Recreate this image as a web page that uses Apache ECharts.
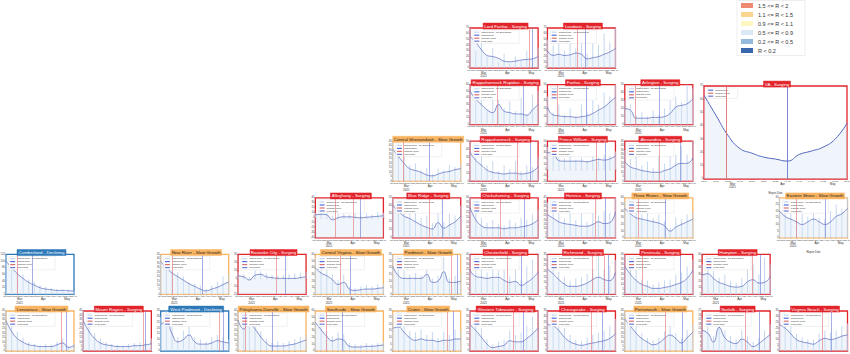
<!DOCTYPE html>
<html>
<head>
<meta charset="utf-8">
<script src="https://cdn.jsdelivr.net/npm/echarts@6/dist/echarts.min.js"></script>
<style>
html, body { margin: 0; background: #fff; }
#chart { width: 850px; height: 354px; }
</style>
</head>
<body>
<div id="chart"></div>
<script>
// health districts, laid out like the state map
const districts = [
  'Lord Fairfax', 'Loudoun', 'Rappahannock Rapidan', 'Fairfax', 'Arlington',
  'Rappahannock', 'Prince William', 'Alexandria', 'Central Shenandoah', 'Alleghany',
  'Blue Ridge', 'Chickahominy', 'Henrico', 'Three Rivers', 'Eastern Shore',
  'Cumberland', 'New River', 'Roanoke City', 'Central Virginia', 'Piedmont',
  'Chesterfield', 'Richmond', 'Peninsula', 'Hampton', 'Lenowisco',
  'Mount Rogers', 'West Piedmont', 'Pittsylvania-Danville', 'Southside', 'Crater',
  'Western Tidewater', 'Chesapeake', 'Portsmouth', 'Norfolk', 'Virginia Beach'
];
const statuses = [
  'Surging', 'Surging', 'Surging', 'Surging', 'Surging',
  'Surging', 'Surging', 'Surging', 'Slow Growth', 'Surging',
  'Surging', 'Surging', 'Surging', 'Slow Growth', 'Slow Growth',
  'Declining', 'Slow Growth', 'Surging', 'Slow Growth', 'Slow Growth',
  'Surging', 'Surging', 'Surging', 'Surging', 'Slow Growth',
  'Surging', 'Declining', 'Slow Growth', 'Slow Growth', 'Slow Growth',
  'Surging', 'Surging', 'Slow Growth', 'Surging', 'Surging'
];
const gridCol = [6, 7, 6, 7, 8, 6, 7, 8, 5, 4, 5, 6, 7, 8, 10, 0, 2, 3, 4, 5, 6, 7, 8, 9, 0, 1, 2, 3, 4, 5, 6, 7, 8, 9, 10];
const gridRow = [0, 0, 1, 1, 1, 2, 2, 2, 2, 3, 3, 3, 3, 3, 3, 4, 4, 4, 4, 4, 4, 4, 4, 4, 5, 5, 5, 5, 5, 5, 5, 5, 5, 5, 5];

// weekly smoothed cases / 100k
const smoothed = [
  [55, 45, 32, 22, 20, 17, 12, 11, 12, 14, 15, 16, 20],
  [30, 22, 24, 22, 23, 26, 24, 16, 18, 20, 24, 28, 34],
  [50, 38, 30, 22, 18, 30, 20, 18, 16, 16, 14, 22, 30],
  [22, 12, 11, 10, 10, 9, 10, 11, 14, 18, 22, 28, 34],
  [20, 18, 8, 8, 8, 9, 9, 10, 14, 22, 24, 26, 32],
  [36, 26, 20, 14, 11, 10, 9, 10, 10, 9, 10, 12, 18],
  [30, 29, 16, 15, 15, 15, 15, 14, 16, 18, 17, 19, 24],
  [22, 16, 14, 12, 11, 10, 10, 12, 14, 18, 20, 20, 26],
  [36, 28, 20, 14, 12, 10, 7, 6, 8, 10, 11, 13, 14],
  [6, 7, 6, -4, 0, 2, 2, 1, 0, 1, 2, 3, 4],
  [41, 33, 27, 24, 20, 16, 13, 11, 19, 12, 16, 20, 27],
  [30, 18, 12, 10, 10, 10, 9, 10, 10, 11, 12, 14, 18],
  [26, 22, 18, 16, 15, 14, 13, 13, 15, 18, 16, 17, 29],
  [44, 36, 30, 28, 26, 24, 22, 18, 10, 16, 20, 24, 28],
  [20, 16, 14, 12, 10, 12, 14, 12, 10, 12, 16, 18, 22],
  [100, 80, 62, 48, 36, 28, 20, 16, 14, 12, 12, 11, 10],
  [37, 30, 24, 20, 16, 12, 9, 6, 4, 6, 8, 11, 14],
  [3, 2, -2, 4, 5, 2, 1, 0, 0, 0, 0, 1, 2],
  [40, 32, 28, 22, 15, 18, 8, 6, 7, 8, 8, 9, 10],
  [21, 14, 12, 12, 12, 12, 15, 9, 10, 17, 9, 9, 10],
  [24, 18, 17, 16, 17, 17, 14, 12, 13, 9, 12, 16, 22],
  [22, 18, 13, 9, 7, 7, 8, 10, 13, 15, 13, 12, 19],
  [28, 20, 14, 10, 8, 6, 6, 7, 8, 10, 12, 16, 24],
  [29, 31, 24, 18, 15, 12, 11, 12, 19, 22, 17, 18, 26],
  [34, 22, 14, 10, 7, 6, 5, 5, 5, 7, 9, 4, 6],
  [34, 22, 14, 9, 7, 6, 5, 5, 5, 6, 6, 7, 8],
  [23, 26, 15, 8, 10, 14, 8, 6, 6, 7, 9, 8, 7],
  [31, 22, 28, 22, 14, 8, 5, 5, 5, 6, 7, 9, 11],
  [43, 32, 22, 15, 18, 16, 7, 6, 6, 7, 7, 8, 9],
  [17, 18, 14, 10, 8, 9, 8, 8, 7, 8, 8, 9, 9],
  [23, 18, 12, 6, 3, 4, 5, 9, 8, 8, 11, 15, 20],
  [23, 22, 18, 12, 8, 6, 5, 6, 7, 8, 9, 11, 15],
  [36, 28, 20, 14, 10, 7, 9, 14, 18, 14, 9, 15, 21],
  [14, 12, 6, 16, 9, 6, 5, 8, 6, 3, 5, 8, 11],
  [23, 20, 15, 10, 8, 7, 6, 9, 11, 10, 11, 13, 14]
];

// unsmoothed reports (spikes)
const raw = [
  [70, 30, 55, 20, 35, 10, 25, 8, 20, 12, 30, 15, 35],
  [50, 40, 55, 30, 60, 35, 55, 25, 50, 40, 60, 45, 70],
  [60, 35, 55, 20, 40, 60, 25, 35, 20, 40, 15, 45, 50],
  [35, 15, 25, 12, 20, 10, 25, 15, 30, 25, 40, 35, 50],
  [30, 25, 12, 15, 10, 18, 12, 20, 30, 35, 28, 50, 45],
  [50, 30, 35, 20, 25, 12, 20, 15, 25, 12, 20, 18, 30],
  [40, 26, 22, 20, 24, 18, 22, 16, 24, 22, 26, 24, 32],
  [35, 25, 30, 18, 22, 15, 28, 20, 35, 30, 40, 30, 45],
  [45, 30, 35, 18, 20, 12, 15, 8, 14, 12, 18, 16, 20],
  [10, 12, 14, 4, 8, 9, 6, 10, 5, 9, 6, 12, 10],
  [50, 40, 45, 30, 35, 25, 28, 18, 35, 20, 30, 28, 40],
  [40, 25, 20, 15, 18, 14, 12, 18, 15, 20, 18, 24, 28],
  [40, 30, 35, 22, 28, 20, 30, 18, 35, 25, 30, 28, 45],
  [55, 40, 45, 35, 38, 30, 35, 25, 15, 30, 28, 35, 38],
  [30, 20, 25, 15, 18, 16, 25, 15, 14, 20, 25, 22, 30],
  [120, 95, 80, 60, 45, 38, 28, 22, 20, 16, 15, 14, 12],
  [45, 35, 30, 25, 20, 14, 12, 10, 6, 10, 14, 20, 22],
  [8, 5, 2, 10, 9, 6, 4, 3, 4, 5, 6, 7, 8],
  [55, 40, 38, 30, 22, 30, 12, 10, 12, 14, 12, 15, 16],
  [30, 20, 18, 15, 16, 14, 25, 12, 14, 28, 12, 14, 15],
  [40, 25, 30, 22, 28, 24, 30, 18, 25, 15, 28, 35, 40],
  [35, 25, 20, 15, 12, 14, 15, 18, 25, 35, 22, 25, 30],
  [40, 28, 25, 15, 14, 10, 12, 14, 15, 20, 22, 28, 35],
  [45, 40, 35, 25, 30, 20, 18, 25, 40, 45, 30, 55, 45],
  [45, 30, 22, 15, 10, 8, 6, 8, 7, 10, 14, 6, 8],
  [45, 32, 20, 14, 10, 8, 7, 6, 8, 9, 10, 12, 14],
  [30, 35, 22, 12, 18, 25, 12, 10, 8, 12, 14, 12, 10],
  [40, 30, 38, 30, 20, 12, 8, 10, 8, 10, 12, 14, 16],
  [55, 40, 30, 22, 28, 25, 12, 10, 9, 12, 10, 12, 14],
  [28, 30, 22, 15, 14, 16, 12, 14, 10, 14, 12, 16, 15],
  [35, 28, 20, 10, 6, 8, 10, 18, 14, 16, 22, 30, 35],
  [35, 32, 28, 20, 14, 10, 9, 12, 14, 16, 18, 22, 28],
  [45, 35, 30, 20, 15, 12, 15, 22, 28, 20, 14, 24, 30],
  [22, 18, 10, 26, 14, 10, 8, 14, 10, 6, 9, 14, 18],
  [35, 30, 22, 15, 12, 10, 10, 15, 18, 16, 18, 22, 24]
];

// week position of change points and peak dates
const changePts = [[10.4], [5.3], [4.8], [1.8], [1.8], [8.4], [8.6], [6], [1.9], [3.5, 6.7],
  [6.5], [5.4], [8.4], [2.4], [3], [2], [2], [6.7], [4.4], [10.4],
  [6.5], [7.9, 10], [3], [8.9], [9.8], [10.6], [10.4], [1.2], [2], [9.6],
  [7.7], [7.7], [7.2], [7.6], [7.6]];
const peakPts = [[11], [6.7], [9.4], [6.8], [6], [10.6], [10.2], [9.8], [6.4], [8],
  [8.8], [9.6], [10.2], [7.2], [8], [4.6], [7.4], [8.3], [6.1], [11.4],
  [9.1], [10.8], [9.8], [10.3], [10.7], [11], [11], [6], [4.8], [10.6],
  [9.4], [9.7], [10.2], [10], [9.1]];
const yMins = [0, 0, 0, 0, 0, 0, -20, 0, 0, -40, 0, 0, 0, 0, 0, 0, 0, -20, 0, 0, 0, 0, 0, 0, 0, 0, 0, 0, 0, 0, 0, 0, 0, 0, 0];
const yMaxs = [null, null, null, null, null, null, 50, null, null, 40, null, null, null, null, null, null, null, 30, null, null, null, null, null, null, null, null, null, null, null, null, null, null, null, null, null];

// statewide
const vaSmoothed = [63, 48, 33, 23, 19.5, 16.5, 15, 13.5, 18.5, 21, 24, 30, 42];
const vaChange = [1.9];
const vaPeak = [7];

const weekTicks = ['02-11', '02-18', '02-26', '03-05', '03-12', '03-20', '03-27', '04-03', '04-11', '04-18', '04-25', '05-03', '05-10'];
const majorTicks = [2.4, 6.6, 10.8];
const majorLabels = ['Mar\n2021', 'Apr', 'May'];

const rBands = ['1.5 <= R < 2', '1.1 <= R < 1.5', '0.9 <= R < 1.1', '0.5 <= R < 0.9', '0.2 <= R < 0.5', 'R < 0.2'];
const rColors = ['#ee8a73', '#fbd58f', '#fdf8c2', '#dbe8f6', '#95badf', '#3a66ad'];

const STATUS_BG = { 'Surging': '#e2232a', 'Slow Growth': '#f9b462', 'Declining': '#2c78b9' };
const STATUS_FG = { 'Surging': '#fff', 'Slow Growth': '#222', 'Declining': '#fff' };
const FONT = 'Liberation Sans';

const grids = [], xAxes = [], yAxes = [], series = [], titles = [], legends = [];

function addPanel(box, title, status, line, spikes, changes, peaks, yMin, yMax, big, lastRow) {
  const g = grids.length;
  const color = STATUS_BG[status];
  grids.push({ left: box.left, top: box.top, width: box.width, height: box.height,
    outerBoundsMode: 'none', containLabel: false,
    show: true, borderColor: color, borderWidth: 1.3, backgroundColor: '#fff' });
  xAxes.push({
    gridIndex: g, type: 'value', min: 0, max: 12,
    axisLine: { show: false },
    axisTick: { length: 1, lineStyle: { color: '#666', width: 0.4 },
      customValues: weekTicks.map((t, i) => i) },
    axisLabel: {
      // the bottom row runs off the page in the original, so its labels are not drawn
      show: !lastRow,
      customValues: weekTicks.map((t, i) => i).concat(majorTicks),
      margin: 1, color: '#444', fontSize: 2.3, fontFamily: FONT,
      formatter: v => {
        const m = majorTicks.indexOf(v);
        return m >= 0 ? '{m|' + majorLabels[m].replace('\n', '}\n{m|') + '}' : weekTicks[v];
      },
      rich: { m: { fontSize: 3, lineHeight: 3.4, color: '#333', fontFamily: FONT, padding: [4, 0, 0, 0] } }
    },
    splitLine: { show: false },
    name: lastRow ? '' : 'Report Date', nameLocation: 'middle', nameGap: 13,
    nameTextStyle: { fontSize: 2.6, color: '#333', fontFamily: FONT }
  });
  yAxes.push({
    gridIndex: g, type: 'value', min: yMin, max: yMax, splitNumber: big ? 6 : 7,
    axisLine: { show: false },
    axisTick: { length: 1, lineStyle: { color: '#666', width: 0.4 } },
    axisLabel: { fontSize: 2.7, margin: 1, color: '#444', fontFamily: FONT },
    splitLine: { show: false }
  });
  const names = [];
  if (spikes) {
    names.push('Cases/100k - No Smoothing');
    series.push({ name: 'Cases/100k - No Smoothing', type: 'bar', xAxisIndex: g, yAxisIndex: g,
      barWidth: 0.8, itemStyle: { color: '#b5cdea', opacity: 0.8 },
      data: spikes.map((v, i) => [i, v]) });
  }
  names.push('Cases/100k', 'Change Point', 'Peak Date');
  series.push({ name: 'Cases/100k', type: 'line', xAxisIndex: g, yAxisIndex: g, smooth: 0.5,
    symbol: 'none', lineStyle: { color: '#5466bd', width: big ? 1 : 0.7 },
    areaStyle: { color: 'rgba(214,228,244,0.55)', origin: 'start' },
    data: line.map((v, i) => [i, v]) });
  const vline = (name, pts, c) => series.push({ name, type: 'line', xAxisIndex: g, yAxisIndex: g,
    data: [], itemStyle: { color: c }, lineStyle: { color: c },
    markLine: { symbol: 'none', silent: true, label: { show: false },
      lineStyle: { color: c, width: big ? 0.9 : 0.6, type: 'solid' },
      data: pts.map(p => ({ xAxis: p })) } });
  vline('Change Point', changes, '#e07070');
  vline('Peak Date', peaks, '#6a78d4');

  titles.push({ text: title, left: box.left + box.width / 2, top: box.top - 5, textAlign: 'center',
    padding: [0.6, 1.5], backgroundColor: color, borderColor: color, borderWidth: 0.5,
    textStyle: { fontSize: 4.4, lineHeight: 5.2, fontWeight: 'normal', color: STATUS_FG[status], fontFamily: FONT } });
  legends.push({ data: spikes ? names : names.filter(n => n !== 'Cases/100k - No Smoothing'),
    left: box.left + 3, top: box.top + 2, orient: 'vertical',
    itemWidth: 5, itemHeight: 1.2, itemGap: 1, padding: [1.2, 8, 1.2, 1.2],
    icon: 'rect', backgroundColor: '#fff', borderColor: '#d0d0d0', borderWidth: 0.3,
    textStyle: { fontSize: 2.4, color: '#333', fontFamily: FONT, padding: [0, 0, 0, -3] } });
}

districts.forEach((d, i) => {
  const box = { left: 6 + 77.35 * gridCol[i], top: 28 + 56.6 * gridRow[i], width: 68, height: 40 };
  addPanel(box, d + ' - ' + statuses[i], statuses[i], smoothed[i], raw[i], changePts[i], peakPts[i],
    yMins[i], yMaxs[i], false, gridRow[i] === 5);
});
addPanel({ left: 704, top: 86, width: 143, height: 93 }, 'VA - Surging', 'Surging', vaSmoothed, null,
  vaChange, vaPeak, 0, null, true, false);

// R band key (top right)
const keyItems = [{ type: 'rect', shape: { x: 737, y: 0.5, width: 68, height: 55 },
  style: { fill: '#fff', stroke: '#e2e2e2', lineWidth: 0.6 } }];
rBands.forEach((t, i) => {
  keyItems.push({ type: 'rect', shape: { x: 741, y: 3 + 9 * i, width: 12, height: 5 }, style: { fill: rColors[i] } });
  keyItems.push({ type: 'text', x: 758, y: 5.5 + 9 * i,
    style: { text: t, fontSize: 5.5, fontFamily: FONT, fill: '#333', verticalAlign: 'middle' } });
});

const chart = echarts.init(document.getElementById('chart'), null, { renderer: 'svg' });
chart.setOption({
  animation: false,
  backgroundColor: '#fff',
  title: titles,
  legend: legends,
  grid: grids,
  xAxis: xAxes,
  yAxis: yAxes,
  series,
  graphic: keyItems
});
</script>
</body>
</html>
